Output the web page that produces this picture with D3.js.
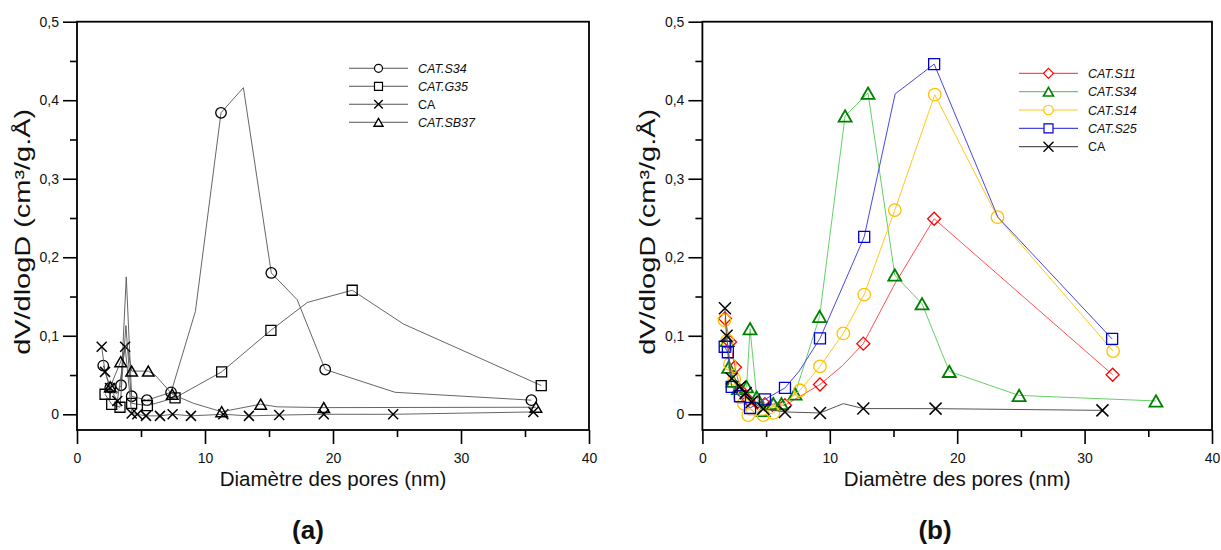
<!DOCTYPE html>
<html><head><meta charset="utf-8">
<script src="https://cdn.jsdelivr.net/npm/d3@7"></script>
<style>
body{margin:0;background:#fff}
svg{display:block}
text{font-family:"Liberation Sans",Arial,sans-serif;fill:#111}
</style>
</head><body>
<svg id="c" width="1221" height="550"></svg>
<script>
// ---------- shared axis data ----------
const xTickValues=[0,10,20,30,40];
const xMinorValues=[5,15,25,35];
const yTickValues=[0,0.1,0.2,0.3,0.4,0.5];
const yMinorValues=[0.05,0.15,0.25,0.35,0.45];
const yTickLabels=["0","0,1","0,2","0,3","0,4","0,5"];
const xTitle="Diamètre des pores (nm)";
const yTitle="dV/dlogD (cm³/g.Å)";

// ---------- panel (a) ----------
const a_names=["CAT.S34","CAT.G35","CA","CAT.SB37"];
// m: 1 = point drawn with a symbol, 0 = line vertex only
const aS34_x=[2.05,2.6,3.1,3.44,3.85,4.27,5.46,7.35,9.25,11.25,13.0,15.18,17.2,19.39,24.85,35.5];
const aS34_y=[0.062,0.034,0.026,0.037,0.175,0.023,0.018,0.028,0.131,0.384,0.416,0.180,0.146,0.057,0.028,0.018];
const aS34_m=[1,1,0,1,0,1,1,1,0,1,0,1,0,1,0,1];

const aG35_x=[2.19,2.71,3.36,3.82,4.27,5.5,7.66,11.3,15.15,18.0,21.5,25.5,36.27];
const aG35_y=[0.0255,0.0127,0.009,0.113,0.014,0.011,0.021,0.054,0.107,0.1425,0.158,0.115,0.0366];
const aG35_m=[1,1,1,0,1,1,1,1,1,0,1,0,1];

const aCA_x=[1.93,2.19,2.58,3.15,3.76,4.27,4.71,5.39,6.48,7.47,8.9,11.43,13.43,15.8,19.28,24.7,35.65];
const aCA_y=[0.086,0.054,0.0335,0.017,0.086,0.001,0.0,-0.002,-0.002,0.0,-0.002,0.0,-0.002,-0.001,0.0,0.0,0.003];
const aCA_m=[1,1,1,1,1,1,1,1,1,1,1,1,1,1,1,1,1];

const aSB37_x=[2.6,3.41,3.9,4.27,5.57,6.1,7.44,9.1,11.3,14.35,15.65,19.28,35.85];
const aSB37_y=[0.035,0.067,0.09,0.055,0.055,0.05,0.0255,0.014,0.0033,0.0128,0.0095,0.0085,0.009];
const aSB37_m=[1,1,0,1,1,0,1,0,1,1,0,1,1];

// ---------- panel (b) ----------
const b_names=["CAT.S11","CAT.S34","CAT.S14","CAT.S25","CA"];
const bS11_x=[1.77,2.17,2.56,3.0,3.6,4.3,4.9,5.5,6.48,9.23,11.0,12.63,15.1,18.19,32.2];
const bS11_y=[0.122,0.092,0.06,0.03,0.018,0.015,0.013,0.012,0.0115,0.038,0.062,0.09,0.166,0.249,0.0504];
const bS11_m=[1,1,1,1,1,1,1,1,1,1,0,1,0,1,1];

const bS34_x=[1.95,2.06,2.4,2.83,3.47,3.74,4.26,4.78,5.57,6.2,7.27,9.2,11.2,13.0,15.1,17.24,19.38,24.86,35.6];
const bS34_y=[0.094,0.060,0.042,0.033,0.035,0.109,0.022,0.005,0.0136,0.0136,0.026,0.1246,0.38,0.409,0.1775,0.1407,0.0547,0.024,0.017];
const bS34_m=[1,1,1,1,1,1,1,1,1,1,1,1,1,1,1,1,1,1,1];

const bS14_x=[1.73,1.95,2.16,2.5,2.95,3.24,3.6,4.78,5.57,7.66,9.23,11.06,12.7,15.1,18.24,23.16,32.24];
const bS14_y=[0.12,0.094,0.064,0.045,0.022,0.0136,-0.001,-0.001,0.0017,0.0306,0.061,0.103,0.1525,0.26,0.407,0.251,0.0805];
const bS14_m=[1,1,1,1,1,1,1,1,1,1,1,1,1,1,1,1,1];

const bS25_x=[1.75,2.0,2.3,2.95,3.74,4.91,6.48,7.6,9.23,11.1,12.7,15.13,18.19,23.2,32.16];
const bS25_y=[0.086,0.079,0.035,0.023,0.008,0.019,0.0336,0.055,0.0966,0.166,0.226,0.408,0.446,0.251,0.096];
const bS25_m=[1,1,1,1,1,1,1,0,1,0,1,0,1,0,1];

const bCA_x=[1.77,1.9,2.3,2.95,3.4,3.87,4.78,6.48,9.23,11.06,12.63,18.3,31.4];
const bCA_y=[0.135,0.1,0.0455,0.035,0.027,0.0157,0.007,0.003,0.0017,0.0136,0.0073,0.0072,0.005];
const bCA_m=[1,1,1,1,1,1,1,1,1,0,1,1,1];

// ---------- drawing helpers ----------
const svg=d3.select("#c");

function symPath(type,s){
  const h=s/2;
  switch(type){
    case "circle": return `M${h},0A${h},${h} 0 1,1 ${-h},0A${h},${h} 0 1,1 ${h},0Z`;
    case "square": return `M${-h},${-h}H${h}V${h}H${-h}Z`;
    case "triangle": {const th=s*0.87/2; return `M0,${-th}L${h},${th}L${-h},${th}Z`;}
    case "diamond": return `M0,${-h}L${h},0L0,${h}L${-h},0Z`;
    case "x": return `M${-h},${-h}L${h},${h}M${-h},${h}L${h},${-h}`;
  }
}

function drawPanel(p){
  const g=svg.append("g");
  const x=d3.scaleLinear().domain([0,40]).range([p.x0,p.x1]);
  const y=d3.scaleLinear().domain([-0.02,0.5]).range([p.yBot,p.yTop]);

  // minor ticks
  g.append("g").attr("transform",`translate(0,${p.yBot})`)
    .call(d3.axisBottom(x).tickValues(xMinorValues).tickSize(7).tickFormat(""))
    .call(s=>s.select(".domain").remove());
  g.append("g").attr("transform",`translate(${p.x0},0)`)
    .call(d3.axisLeft(y).tickValues(yMinorValues).tickSize(7).tickFormat(""))
    .call(s=>s.select(".domain").remove());
  // major ticks
  const xa=g.append("g").attr("transform",`translate(0,${p.yBot})`)
    .call(d3.axisBottom(x).tickValues(xTickValues).tickSize(14).tickPadding(9).tickFormat(d3.format("d")));
  xa.select(".domain").remove();
  const ya=g.append("g").attr("transform",`translate(${p.x0},0)`)
    .call(d3.axisLeft(y).tickValues(yTickValues).tickSize(14).tickPadding(4).tickFormat((d,i)=>yTickLabels[i]));
  ya.select(".domain").remove();
  g.selectAll(".tick line").attr("stroke","#000").attr("stroke-width",1.6);
  g.selectAll(".tick text").attr("font-size",14).attr("fill","#222")
    .attr("font-family",'"Liberation Sans",Arial,sans-serif');

  // frame
  g.append("rect").attr("x",p.x0).attr("y",p.yTop).attr("width",p.x1-p.x0).attr("height",p.yBot-p.yTop)
    .attr("fill","none").attr("stroke","#000").attr("stroke-width",1.8);

  // titles
  g.append("text").attr("x",(p.x0+p.x1)/2).attr("y",p.yBot+56).attr("text-anchor","middle")
    .attr("font-size",20.5).text(xTitle);
  g.append("text").attr("transform",`translate(${p.x0-47},${(p.yTop+p.yBot)/2+6}) rotate(-90)`)
    .attr("text-anchor","middle").attr("font-size",22)
    .attr("textLength",246).attr("lengthAdjust","spacingAndGlyphs").text(yTitle);
  g.append("text").attr("x",p.capX).attr("y",539).attr("text-anchor","middle")
    .attr("font-family","Lato,'Open Sans',sans-serif")
    .attr("font-size",26).attr("font-weight","bold").text(p.cap);

  const line=d3.line().x(d=>x(d[0])).y(d=>y(d[1]));
  p.series.forEach(s=>{
    const pts=s.xs.map((v,i)=>[v,s.ys[i],s.ms[i]]);
    g.append("path").datum(pts).attr("d",line).attr("fill","none")
      .attr("stroke",s.line).attr("stroke-width",s.lw);
    g.selectAll(null).data(pts.filter(d=>d[2])).enter().append("path")
      .attr("transform",d=>`translate(${x(d[0])},${y(d[1])})`)
      .attr("d",symPath(s.sym,s.size)).attr("fill","none")
      .attr("stroke",s.mark).attr("stroke-width",s.mw);
  });

  // legend
  p.series.forEach((s,i)=>{
    const ly=p.legY+i*p.legStep;
    g.append("line").attr("x1",p.legX).attr("x2",p.legX+59).attr("y1",ly).attr("y2",ly)
      .attr("stroke",s.line).attr("stroke-width",s.lw+0.2);
    g.append("path").attr("transform",`translate(${p.legX+29.5},${ly})`)
      .attr("d",symPath(s.sym,s.lsize)).attr("fill","#fff").attr("stroke",s.mark).attr("stroke-width",s.mw*0.9);
    g.append("text").attr("x",p.legX+69).attr("y",ly+4.5).attr("font-size",12.5)
      .attr("font-style",s.name==="CA"?"normal":"italic").text(s.name);
  });
}

const lc="#555";
drawPanel({x0:77,x1:589,yTop:21.7,yBot:430,cap:"(a)",capX:308,legX:349,legY:68.3,legStep:18,
  series:[
    {name:a_names[0],xs:aS34_x,ys:aS34_y,ms:aS34_m,sym:"circle",size:10.5,lsize:8,line:lc,mark:"#000",lw:0.9,mw:1.3},
    {name:a_names[1],xs:aG35_x,ys:aG35_y,ms:aG35_m,sym:"square",size:10,lsize:8,line:lc,mark:"#000",lw:0.9,mw:1.3},
    {name:a_names[2],xs:aCA_x,ys:aCA_y,ms:aCA_m,sym:"x",size:10,lsize:8.5,line:lc,mark:"#000",lw:0.9,mw:1.5},
    {name:a_names[3],xs:aSB37_x,ys:aSB37_y,ms:aSB37_m,sym:"triangle",size:11.5,lsize:9,line:lc,mark:"#000",lw:0.9,mw:1.5}
  ]});
drawPanel({x0:702.4,x1:1212,yTop:21.7,yBot:430,cap:"(b)",capX:935,legX:1019,legY:73.3,legStep:18.35,
  series:[
    {name:b_names[0],xs:bS11_x,ys:bS11_y,ms:bS11_m,sym:"diamond",size:13,lsize:10,line:"#ff5050",mark:"#ff0000",lw:1,mw:1.3},
    {name:b_names[1],xs:bS34_x,ys:bS34_y,ms:bS34_m,sym:"triangle",size:13,lsize:10,line:"#66d066",mark:"#008000",lw:1,mw:1.8},
    {name:b_names[2],xs:bS14_x,ys:bS14_y,ms:bS14_m,sym:"circle",size:12.5,lsize:9.5,line:"#ffc81e",mark:"#ffc000",lw:1,mw:1.3},
    {name:b_names[3],xs:bS25_x,ys:bS25_y,ms:bS25_m,sym:"square",size:11,lsize:9,line:"#4848e0",mark:"#0000cc",lw:1,mw:1.3},
    {name:b_names[4],xs:bCA_x,ys:bCA_y,ms:bCA_m,sym:"x",size:12,lsize:10,line:"#555",mark:"#000",lw:1,mw:1.5}
  ]});
</script>
</body></html>
